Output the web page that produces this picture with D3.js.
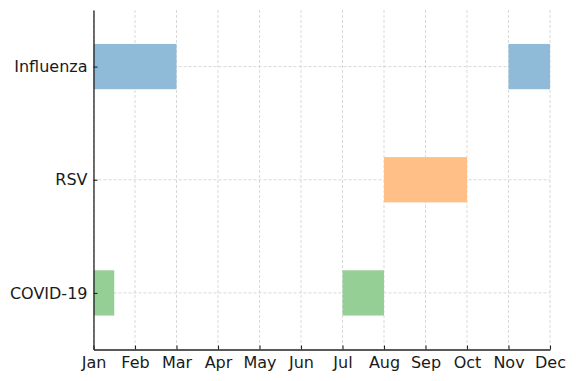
<!DOCTYPE html>
<html><head><meta charset="utf-8">
<script src="https://cdn.jsdelivr.net/npm/d3@7"></script>
<style>body{margin:0;background:#fff}svg{display:block}text{font-family:"DejaVu Sans",sans-serif}</style>
</head><body><svg id="c" width="576" height="381"></svg>
<script>
const months = ["Jan","Feb","Mar","Apr","May","Jun","Jul","Aug","Sep","Oct","Nov","Dec"];
const categories = ["COVID-19","RSV","Influenza"];
const colors = {"Influenza":"#8fbbd9","RSV":"#ffbf86","COVID-19":"#95cf95"};
// month-index intervals [start, end]
const influenzaSpans = [[0,2],[10,11]];
const rsvSpans = [[7,9]];
const covidSpans = [[0,0.5],[6,7]];
const spans = {"Influenza":influenzaSpans,"RSV":rsvSpans,"COVID-19":covidSpans};

const svg = d3.select("#c");
const L=93.5, R=550, T=10, B=349.5;
const x = d3.scaleLinear().domain([0,11]).range([L,R]);
const y = d3.scaleLinear().domain([-0.5,2.5]).range([B,T]);
const barH = 0.4;

// grid
const g = svg.append("g");
g.selectAll("line.vx").data(months).join("line")
  .attr("x1",(d,i)=>x(i)).attr("x2",(d,i)=>x(i)).attr("y1",T).attr("y2",B)
  .attr("stroke","#cfcfcf").attr("stroke-width",0.8).attr("stroke-dasharray","3,2");
g.selectAll("line.hy").data(categories).join("line")
  .attr("x1",L).attr("x2",R).attr("y1",(d,i)=>y(i)).attr("y2",(d,i)=>y(i))
  .attr("stroke","#cfcfcf").attr("stroke-width",0.8).attr("stroke-dasharray","3,2");

// bars
const bars=[];
categories.forEach((c,i)=>spans[c].forEach(s=>bars.push({c,i,s})));
svg.selectAll("rect.bar").data(bars).join("rect")
  .attr("x",d=>x(d.s[0])).attr("width",d=>x(d.s[1])-x(d.s[0]))
  .attr("y",d=>y(d.i+barH/2)).attr("height",d=>y(d.i-barH/2)-y(d.i+barH/2))
  .attr("fill",d=>colors[d.c]);

// axes
const xa = svg.append("g").attr("transform",`translate(0,${B})`)
  .call(d3.axisBottom(x).tickValues(d3.range(12)).tickFormat(i=>months[i]).tickSizeInner(-4).tickSizeOuter(0).tickPadding(7));
const ya = svg.append("g").attr("transform",`translate(${L},0)`)
  .call(d3.axisLeft(y).tickValues([0,1,2]).tickFormat(i=>categories[i]).tickSizeInner(-4).tickSizeOuter(0).tickPadding(6));
[xa,ya].forEach(a=>{
  a.select(".domain").attr("stroke","#222").attr("stroke-width",1.3);
  a.selectAll(".tick line").attr("stroke","#222").attr("stroke-width",1.1);
  a.selectAll("text").attr("font-size","16px").attr("fill","#1a1a1a").attr("font-family","DejaVu Sans");
});
</script></body></html>
